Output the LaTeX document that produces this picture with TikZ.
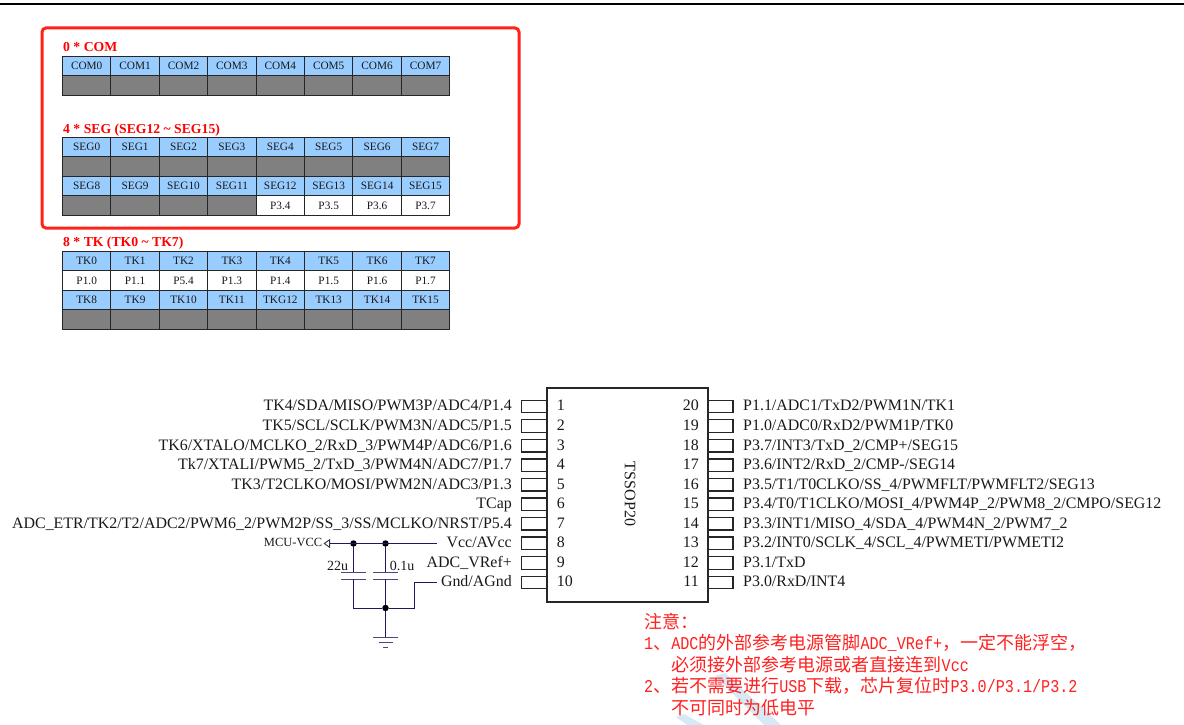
\documentclass[tikz,border=0pt]{standalone}
\usepackage{fontspec}
\setmainfont{Liberation Serif}
\newfontfamily\cjk{Noto Sans CJK SC}
\newfontfamily\monof[FakeStretch=0.84]{Liberation Mono}
\usetikzlibrary{arrows.meta}
\definecolor{cellblue}{HTML}{99CCFF}
\definecolor{cellgray}{HTML}{808080}
\definecolor{wirenavy}{HTML}{1A1A5E}
\definecolor{notered}{HTML}{FF2020}
\definecolor{boxred}{HTML}{FF2218}
\definecolor{marklight}{HTML}{D5EAF5}
\tikzset{
  cell/.style={draw=black!85,line width=1pt,minimum width=48.4pt,minimum height=19.5pt,inner sep=0pt,outer sep=0pt,text=black!90,font=\fontsize{11.3}{12}\selectfont},
  bluecell/.style={cell,fill=cellblue},
  graycell/.style={cell,fill=cellgray},
  whitecell/.style={cell,fill=white},
  head/.style={anchor=base west,inner sep=0pt,text=red,font=\fontsize{13.7}{14}\bfseries\selectfont},
  pinbox/.style={draw=black!85,line width=1.3pt,minimum width=25pt,minimum height=12.5pt,inner sep=0pt,outer sep=0pt},
  chip/.style={draw=black!85,line width=1.3pt,inner sep=0pt,outer sep=0pt,minimum width=161pt,minimum height=214pt},
  pinname/.style={inner sep=0pt,text=black!90,font=\fontsize{15.93}{17}\selectfont},
  pinnum/.style={inner sep=0pt,text=black!90,font=\fontsize{15.93}{17}\selectfont},
  wire/.style={draw=wirenavy,line width=0.9pt},
  plate/.style={draw=wirenavy!80,line width=1pt},
  dot/.style={circle,fill=black,inner sep=0pt,minimum size=6.5pt},
  small/.style={inner sep=0pt,text=black!90,font=\fontsize{14}{15}\selectfont},
  noteline/.style={anchor=base west,inner sep=0pt,text=notered,font=\fontsize{18}{20}\selectfont},
}
\newcommand{\cz}[1]{{\cjk #1}}
\newcommand{\mz}[1]{{\monof #1}}
\newcommand{\textrow}[4]{\foreach \t [count=\i from 0] in {#4} \node[#3] (#1\i) at ({62.5+48.4*(\i+0.5)},#2) {\t};}
\newcommand{\grayrow}[2]{\foreach \i in {0,...,7} \node[graycell] (#1\i) at ({62.5+48.4*(\i+0.5)},#2) {};}
\begin{document}
\begin{tikzpicture}[x=1pt,y=-1pt]
\useasboundingbox (0,0) rectangle (1184,725);
\draw[line width=2pt,black] (0,4) -- (1184,4);
\draw[draw=boxred,line width=3pt,rounded corners=4pt] (42,28) rectangle (519,228);

\node[head] (h0) at (63,52) {0 * COM};
\textrow{c}{66}{bluecell}{COM0,COM1,COM2,COM3,COM4,COM5,COM6,COM7}
\grayrow{cg}{85.5}

\node[head] (h1) at (63,133.5) {4 * SEG (SEG12 \textasciitilde{} SEG15)};
\textrow{s}{147.2}{bluecell}{SEG0,SEG1,SEG2,SEG3,SEG4,SEG5,SEG6,SEG7}
\grayrow{sg}{166.7}
\textrow{t}{186.2}{bluecell}{SEG8,SEG9,SEG10,SEG11,SEG12,SEG13,SEG14,SEG15}
\foreach \i in {0,...,3} \node[graycell] (u\i) at ({62.5+48.4*(\i+0.5)},205.7) {};
\foreach \t [count=\i from 4] in {P3.4,P3.5,P3.6,P3.7} \node[whitecell] (u\i) at ({62.5+48.4*(\i+0.5)},205.7) {\t};

\node[head] (h2) at (63,246.5) {8 * TK (TK0 \textasciitilde{} TK7)};
\textrow{k}{261}{bluecell}{TK0,TK1,TK2,TK3,TK4,TK5,TK6,TK7}
\textrow{p}{280.5}{whitecell}{P1.0,P1.1,P5.4,P1.3,P1.4,P1.5,P1.6,P1.7}
\textrow{m}{300}{bluecell}{TK8,TK9,TK10,TK11,TKG12,TK13,TK14,TK15}
\grayrow{mg}{319.5}

% chip
\node[chip] (ic) at (627.5,495) {};
\node[inner sep=0pt,rotate=-90,text=black!90,font=\fontsize{16}{17}\selectfont] (pkg) at (630,494) {TSSOP20};

\foreach \n/\t [count=\i from 0] in {
 1/{TK4/SDA/MISO/PWM3P/ADC4/P1.4},
 2/{TK5/SCL/SCLK/PWM3N/ADC5/P1.5},
 3/{TK6/XTALO/MCLKO\_2/RxD\_3/PWM4P/ADC6/P1.6},
 4/{Tk7/XTALI/PWM5\_2/TxD\_3/PWM4N/ADC7/P1.7},
 5/{TK3/T2CLKO/MOSI/PWM2N/ADC3/P1.3},
 6/{TCap},
 7/{ADC\_ETR/TK2/T2/ADC2/PWM6\_2/PWM2P/SS\_3/SS/MCLKO/NRST/P5.4},
 8/{Vcc/AVcc},
 9/{ADC\_VRef+},
 10/{Gnd/AGnd}}{
  \pgfmathsetmacro{\yy}{406.5+19.55*\i}
  \node[pinbox] (L\n) at (534,\yy) {};
  \node[pinname,anchor=mid east] (LT\n) at (512,\yy+2.2) {\t};
  \node[pinnum,anchor=mid west] (LN\n) at (556.7,\yy+2.2) {\n};
}
\foreach \n/\t [count=\i from 0] in {
 20/{P1.1/ADC1/TxD2/PWM1N/TK1},
 19/{P1.0/ADC0/RxD2/PWM1P/TK0},
 18/{P3.7/INT3/TxD\_2/CMP+/SEG15},
 17/{P3.6/INT2/RxD\_2/CMP-/SEG14},
 16/{P3.5/T1/T0CLKO/SS\_4/PWMFLT/PWMFLT2/SEG13},
 15/{P3.4/T0/T1CLKO/MOSI\_4/PWM4P\_2/PWM8\_2/CMPO/SEG12},
 14/{P3.3/INT1/MISO\_4/SDA\_4/PWM4N\_2/PWM7\_2},
 13/{P3.2/INT0/SCLK\_4/SCL\_4/PWMETI/PWMETI2},
 12/{P3.1/TxD},
 11/{P3.0/RxD/INT4}}{
  \pgfmathsetmacro{\yy}{406.5+19.55*\i}
  \node[pinbox] (R\n) at (720.5,\yy) {};
  \node[pinname,anchor=mid west] (RT\n) at (743,\yy+2.2) {\t};
  \node[pinnum,anchor=mid east] (RN\n) at (699,\yy+2.2) {\n};
}

% supply network
\node[small,anchor=mid east,font=\fontsize{12.5}{13}\selectfont] (vcc) at (322.5,544.5) {MCU-VCC};
\coordinate (vccend) at (437,543.5);
\coordinate (gndend) at (437,582.7);
\coordinate (vcctip) at (323.5,543.5);
\node[dot] (j1) at (353.5,543.5) {};
\node[dot] (j2) at (385.5,543.5) {};
\node[dot] (j3) at (385.5,608) {};
\coordinate (c1t) at (353.5,572.7);
\coordinate (c1b) at (353.5,579);
\coordinate (c2t) at (385.5,572.7);
\coordinate (c2b) at (385.5,579);
\coordinate (gt) at (385.5,637);
\node[small] (c1l) at (337.5,565.5) {22u};
\node[small] (c2l) at (402,566) {0.1u};

\draw[wire,-{Triangle[open,length=6.5pt,width=9pt,line width=0.9pt,color=black!80]}] (vccend) -- (vcctip);
\draw[wire] (j1) -- (c1t);
\draw[wire] (j2) -- (c2t);
\draw[plate] ([xshift=-12.5pt]c1t) -- ([xshift=12.5pt]c1t);
\draw[plate] ([xshift=-12.5pt]c1b) -- ([xshift=12.5pt]c1b);
\draw[plate] ([xshift=-12.5pt]c2t) -- ([xshift=12.5pt]c2t);
\draw[plate] ([xshift=-12.5pt]c2b) -- ([xshift=12.5pt]c2b);
\draw[wire] (c1b) |- (j3);
\draw[wire] (c2b) -- (j3);
\draw[wire] (j3) -| (414,582.7) -- (gndend);
\draw[wire] (j3) -- (gt);
\draw[plate] ([xshift=-12.5pt]gt) -- ([xshift=12.5pt]gt);
\draw[plate] ([xshift=-7pt,yshift=-5.5pt]gt) -- ([xshift=7pt,yshift=-5.5pt]gt);
\draw[plate] ([xshift=-2.5pt,yshift=-10pt]gt) -- ([xshift=2.5pt,yshift=-10pt]gt);

% watermark bands
\fill[marklight] (715,676) -- (725,673) -- (781,725) -- (764,725) -- cycle;
\fill[marklight] (676,717) -- (684,714) -- (704,725) -- (687,725) -- cycle;

% note
\node[noteline] (n0) at (644,628) {\cz{注意：}};
\node[noteline] (n1) at (644,649.5) {\mz{1}\cz{、}\mz{ADC}\cz{的外部参考电源管脚}\mz{ADC\_VRef+}\cz{，一定不能浮空，}};
\node[noteline] (n2) at (671.5,671) {\cz{必须接外部参考电源或者直接连到}\mz{Vcc}};
\node[noteline] (n3) at (644,692.5) {\mz{2}\cz{、若不需要进行}\mz{USB}\cz{下载，芯片复位时}\mz{P3.0/P3.1/P3.2}};
\node[noteline] (n4) at (671.5,714) {\cz{不可同时为低电平}};
\end{tikzpicture}
\end{document}
